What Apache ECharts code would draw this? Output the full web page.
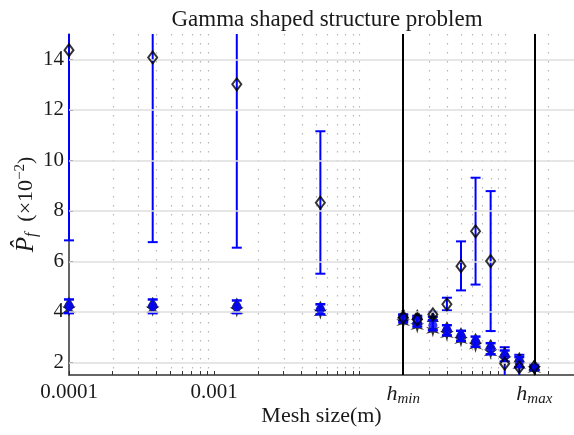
<!DOCTYPE html>
<html>
<head>
<meta charset="utf-8">
<script src="https://cdn.jsdelivr.net/npm/echarts@6/dist/echarts.min.js"></script>
<style>
  html, body { margin: 0; padding: 0; background: #fff; }
  #chart { width: 574px; height: 435px; }
</style>
</head>
<body>
<div id="chart"></div>
<script>
// Mesh sizes (m) of the runs
const meshSizes = [0.0001, 0.000377, 0.00143, 0.00538, 0.02, 0.025, 0.032, 0.04, 0.05, 0.063, 0.08, 0.1, 0.126, 0.16];

// Estimator with wide confidence intervals (open diamonds), values in 1e-2
const wideMean  = [14.36, 14.07, 13.01, 8.32, 3.78, 3.7, 3.9, 4.3, 5.81, 7.19, 6.01, 1.95, 1.81, 1.82];
const wideLow   = [6.83, 6.76, 6.54, 5.51, 3.65, 3.55, 3.8, 4.06, 4.85, 5.08, 3.24, 1.3, 1.3, 1.7];
const wideHigh  = [21.9, 21.4, 19.5, 11.15, 3.9, 3.85, 4.0, 4.56, 6.79, 9.31, 8.78, 2.6, 2.3, 1.95];

// Upper black estimate (triangles)
const upperVals = [4.38, 4.38, 4.35, 4.22, 3.95, 3.9, 3.82, 3.42, 3.18, 2.95, 2.72, 2.42, 2.2, 1.9];

// Blue estimator with narrow intervals
const blueMean  = [4.22, 4.22, 4.2, 4.1, 3.73, 3.6, 3.47, 3.27, 3.05, 2.82, 2.54, 2.25, 2.01, 1.78];
const blueLow   = [3.95, 3.95, 3.95, 3.9, 3.58, 3.42, 3.27, 3.07, 2.85, 2.62, 2.32, 2.03, 1.81, 1.7];
const blueHigh  = [4.49, 4.49, 4.45, 4.3, 3.88, 3.78, 3.67, 3.47, 3.25, 3.02, 2.76, 2.47, 2.21, 1.86];

// Lower black estimate (stars)
const lowerVals = [4.08, 4.08, 4.05, 3.96, 3.58, 3.42, 3.27, 3.1, 2.87, 2.65, 2.38, 2.1, 1.88, 1.72];

// Axis ticks
const yTicks = [2, 4, 6, 8, 10, 12, 14];
const hMin = 0.02, hMax = 0.16;
const xLabelTicks = [0.0001, 0.001, hMin, hMax];
const xMinorGrid = [0.0002, 0.0003, 0.0004, 0.0005, 0.0006, 0.0007, 0.0008, 0.0009,
                    0.002, 0.003, 0.004, 0.005, 0.006, 0.007, 0.008, 0.009,
                    0.01, 0.03, 0.04, 0.05, 0.06, 0.07, 0.08, 0.09, 0.1, 0.2];
const xMajorGrid = [0.001];

const FONT = '"Liberation Serif", "DejaVu Serif", serif';
const BLUE = '#0000ff';
const INK = '#1a1a1a';

const pair = (xs, ys) => xs.map((x, i) => [x, ys[i]]);
const triple = (xs, lo, hi) => xs.map((x, i) => [x, lo[i], hi[i]]);

function errorBars(capHalf, width) {
  return function (params, api) {
    const cs = params.coordSys;
    const top = cs.y, bottom = cs.y + cs.height;
    const pLo = api.coord([api.value(0), api.value(1)]);
    const pHi = api.coord([api.value(0), api.value(2)]);
    const x = pLo[0];
    const y1 = Math.min(Math.max(pHi[1], top), bottom);
    const y2 = Math.min(Math.max(pLo[1], top), bottom);
    const style = { stroke: BLUE, lineWidth: width };
    const children = [{ type: 'line', shape: { x1: x, y1: y1, x2: x, y2: y2 }, style: style }];
    if (pHi[1] >= top && pHi[1] <= bottom) {
      children.push({ type: 'line', shape: { x1: x - capHalf, y1: pHi[1], x2: x + capHalf, y2: pHi[1] }, style: style });
    }
    if (pLo[1] >= top && pLo[1] <= bottom) {
      children.push({ type: 'line', shape: { x1: x - capHalf, y1: pLo[1], x2: x + capHalf, y2: pLo[1] }, style: style });
    }
    return { type: 'group', children: children };
  };
}

// Full-height vertical grid line at an x value
function verticalGrid(style) {
  return function (params, api) {
    const cs = params.coordSys;
    const x = Math.round(api.coord([api.value(0), 2])[0]) + 0.5;
    return {
      type: 'line',
      shape: { x1: x, y1: cs.y, x2: x, y2: cs.y + cs.height },
      style: style
    };
  };
}

const starPath = 'path://M0,-10 L1.75,-3.03 L8.66,-5 L3.5,0 L8.66,5 L1.75,3.03 L0,10 L-1.75,3.03 L-8.66,5 L-3.5,0 L-8.66,-5 L-1.75,-3.03 Z';

const chart = echarts.init(document.getElementById('chart'), null, { renderer: 'canvas' });

const option = {
  animation: false,
  backgroundColor: '#ffffff',
  title: {
    text: 'Gamma shaped structure problem',
    left: 322, top: 3, textAlign: 'center',
    textStyle: { fontFamily: FONT, fontSize: 23, fontWeight: 'normal', color: INK }
  },
  grid: { left: 69, right: 0, top: 34, bottom: 60, containLabel: false, outerBoundsMode: 'none' },
  xAxis: {
    type: 'log', logBase: 10, min: 0.0001, max: 0.3,
    name: 'Mesh size(m)', nameLocation: 'middle', nameGap: 30, nameMoveOverlap: false,
    nameTextStyle: { fontFamily: FONT, fontSize: 22, color: INK },
    axisLine: { show: true, lineStyle: { color: '#333', width: 1.5 } },
    axisTick: { show: true, inside: true, length: 4, lineStyle: { color: '#333' },
                customValues: xLabelTicks.concat(xMinorGrid) },
    axisLabel: {
      customValues: xLabelTicks, margin: 7, color: INK,
      fontFamily: FONT, fontSize: 21,
      formatter: function (v) {
        if (Math.abs(v - hMin) < 1e-9) return '{h|h}{s|min}';
        if (Math.abs(v - hMax) < 1e-9) return '{h|h}{s|max}';
        return v < 0.0005 ? '0.0001' : '0.001';
      },
      rich: {
        h: { fontFamily: FONT, fontSize: 22, fontStyle: 'italic', color: INK },
        s: { fontFamily: FONT, fontSize: 15, fontStyle: 'italic', color: INK, padding: [10, 0, 0, 0] }
      }
    },
    splitLine: { show: false }
  },
  yAxis: {
    type: 'value', min: 1.5, max: 15,
    name: '{p|P̂}{f|f}{t|  (×10}{e|−2}{t|)}',
    nameLocation: 'middle', nameGap: 29, nameRotate: 90, nameMoveOverlap: false,
    nameTextStyle: {
      fontFamily: FONT, fontSize: 22, color: INK,
      rich: {
        p: { fontFamily: FONT, fontSize: 25, fontStyle: 'italic', color: INK },
        f: { fontFamily: FONT, fontSize: 16, fontStyle: 'italic', color: INK, padding: [12, 0, 0, 0] },
        t: { fontFamily: FONT, fontSize: 22, color: INK },
        e: { fontFamily: FONT, fontSize: 15, color: INK, padding: [0, 0, 11, 0] }
      }
    },
    axisLine: { show: true, lineStyle: { color: '#333', width: 1.5 } },
    axisTick: { show: true, inside: true, length: 4, lineStyle: { color: '#333' }, customValues: yTicks },
    axisLabel: { customValues: yTicks, margin: 5, color: INK, fontFamily: FONT, fontSize: 21 },
    splitLine: { show: false }
  },
  series: [
    {
      // horizontal and major vertical grid lines
      type: 'line', data: [], z: 0, silent: true,
      markLine: {
        silent: true, symbol: 'none', animation: false,
        label: { show: false },
        data: [].concat(
          yTicks.map(v => ({ yAxis: v, lineStyle: { color: '#dedede', width: 1.5, type: 'solid' } })),
          xMajorGrid.map(v => ({ xAxis: v, lineStyle: { color: '#dedede', width: 1.2, type: 'solid' } }))
        )
      }
    },
    {
      // minor vertical grid (dotted)
      type: 'custom', z: 0, silent: true,
      renderItem: verticalGrid({ stroke: '#b8b8b8', lineWidth: 1.2, lineDash: [1.5, 7.5] }),
      data: xMinorGrid.map(v => [v])
    },
    {
      // h_min / h_max bounds
      type: 'line', data: [], z: 1, silent: true,
      markLine: {
        silent: true, symbol: 'none', animation: false,
        label: { show: false },
        lineStyle: { color: '#000', width: 2, type: 'solid' },
        data: [{ xAxis: hMin }, { xAxis: hMax }]
      }
    },
    {
      type: 'custom', z: 2, silent: true,
      renderItem: errorBars(5, 2),
      data: triple(meshSizes, wideLow, wideHigh)
    },
    {
      type: 'scatter', z: 3, silent: true,
      symbol: starPath, symbolSize: 14,
      itemStyle: { color: '#000' },
      data: pair(meshSizes, lowerVals)
    },
    {
      type: 'scatter', z: 3, silent: true,
      symbol: 'triangle', symbolSize: [12, 11],
      itemStyle: { color: '#000' },
      data: pair(meshSizes, upperVals)
    },
    {
      type: 'custom', z: 4, silent: true,
      renderItem: errorBars(5, 2.5),
      data: triple(meshSizes, blueLow, blueHigh)
    },
    {
      type: 'scatter', z: 5, silent: true,
      symbol: 'circle', symbolSize: 9,
      itemStyle: { color: BLUE },
      data: pair(meshSizes, blueMean)
    },
    {
      type: 'scatter', z: 6, silent: true,
      symbol: 'diamond', symbolSize: [9, 12],
      itemStyle: { color: 'rgba(0,0,0,0)', borderColor: '#000', borderWidth: 2 },
      data: pair(meshSizes, wideMean)
    }
  ]
};

chart.setOption(option);
</script>
</body>
</html>
